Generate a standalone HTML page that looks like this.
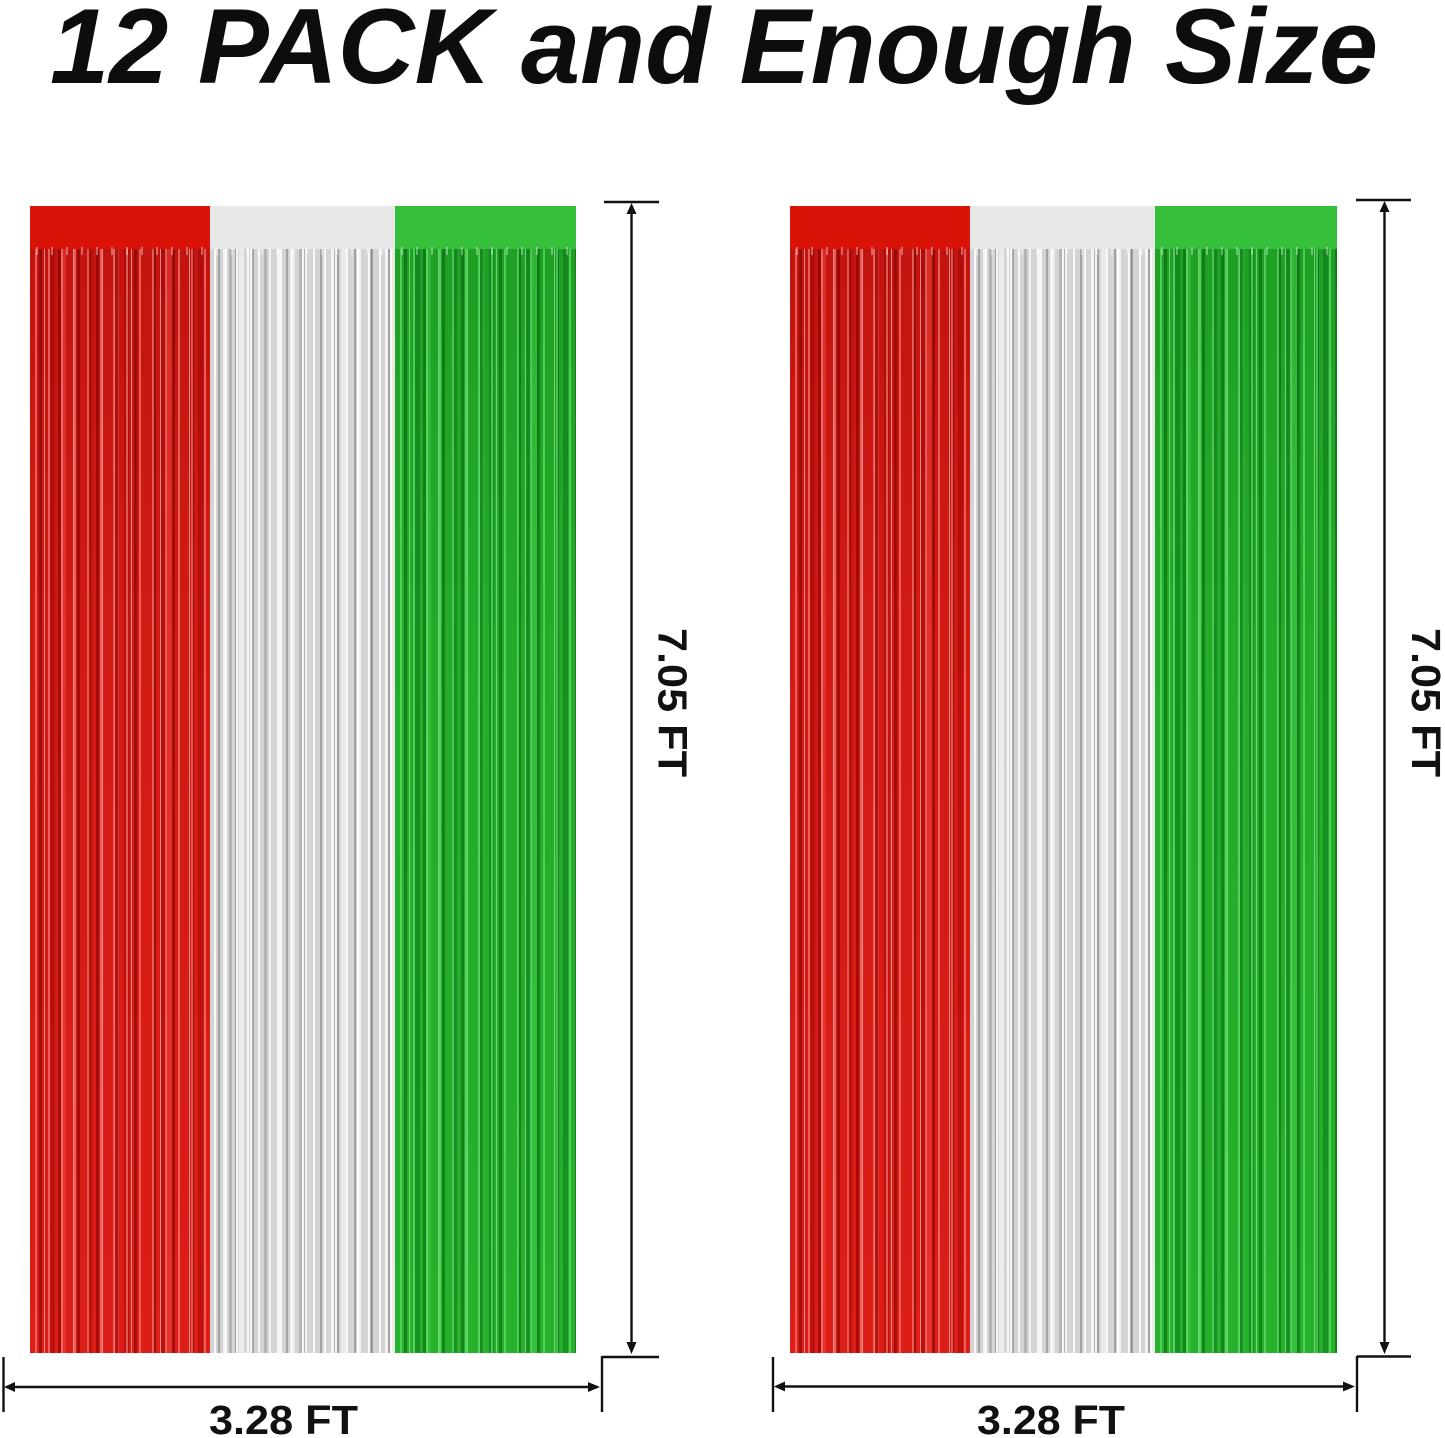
<!DOCTYPE html>
<html>
<head>
<meta charset="utf-8">
<style>
  html,body{margin:0;padding:0;background:#fff;}
  body{width:1445px;height:1438px;position:relative;overflow:hidden;}
  .p{position:absolute;top:206px;height:1147px;}
  .hd{position:absolute;left:0;right:0;top:0;height:43px;}
  .fr{position:absolute;left:0;right:0;top:43px;bottom:0;}
  .red .hd{background:#da1308;}
  .sil .hd{background:#e8e8e8;}
  .grn .hd{background:#35bf3a;}
  .red .fr{background:
    repeating-linear-gradient(90deg, transparent 0 5px, rgba(255,140,130,.6) 5px 7px, transparent 7px 13px),
    repeating-linear-gradient(90deg, transparent 0 9px, rgba(110,0,0,.5) 9px 12px, transparent 12px 19px),
    repeating-linear-gradient(90deg, transparent 0 14px, rgba(255,215,205,.6) 14px 15px, transparent 15px 29px),
    repeating-linear-gradient(90deg, transparent 0 20px, rgba(140,0,0,.4) 20px 25px, transparent 25px 37px),
    repeating-linear-gradient(90deg, transparent 0 31px, rgba(255,90,80,.35) 31px 36px, transparent 36px 53px),
    linear-gradient(180deg, #c21410 0%, #d21a15 35%, #dc1d18 100%);}
  .sil .fr{background:
    repeating-linear-gradient(90deg, transparent 0 4px, rgba(255,255,255,.85) 4px 6px, transparent 6px 11px),
    repeating-linear-gradient(90deg, transparent 0 8px, rgba(110,110,110,.5) 8px 10px, transparent 10px 17px),
    repeating-linear-gradient(90deg, transparent 0 13px, rgba(255,255,255,.75) 13px 16px, transparent 16px 27px),
    repeating-linear-gradient(90deg, transparent 0 19px, rgba(130,130,130,.4) 19px 22px, transparent 22px 35px),
    repeating-linear-gradient(90deg, transparent 0 29px, rgba(255,255,255,.5) 29px 34px, transparent 34px 51px),
    #d4d4d4;}
  .grn .fr{background:
    repeating-linear-gradient(90deg, transparent 0 5px, rgba(110,235,120,.6) 5px 7px, transparent 7px 13px),
    repeating-linear-gradient(90deg, transparent 0 9px, rgba(0,90,10,.5) 9px 12px, transparent 12px 19px),
    repeating-linear-gradient(90deg, transparent 0 14px, rgba(170,255,175,.55) 14px 15px, transparent 15px 29px),
    repeating-linear-gradient(90deg, transparent 0 20px, rgba(0,100,20,.4) 20px 25px, transparent 25px 37px),
    repeating-linear-gradient(90deg, transparent 0 31px, rgba(80,220,90,.35) 31px 36px, transparent 36px 53px),
    linear-gradient(180deg, #1f9f25 0%, #24ab2a 35%, #26b02c 100%);}
  .edge{position:absolute;left:0;right:0;top:41px;height:8px;
    background:repeating-linear-gradient(90deg, rgba(255,255,255,0) 0 6px, rgba(255,255,255,.35) 6px 8px, rgba(255,255,255,0) 8px 15px);}
  svg{position:absolute;left:0;top:0;}
</style>
</head>
<body>
  <!-- Left curtain -->
  <div class="p red" style="left:30px;width:180px;"><div class="hd"></div><div class="fr"></div><div class="edge"></div></div>
  <div class="p sil" style="left:210px;width:185px;"><div class="hd"></div><div class="fr"></div><div class="edge"></div></div>
  <div class="p grn" style="left:395px;width:181px;"><div class="hd"></div><div class="fr"></div><div class="edge"></div></div>
  <!-- Right curtain -->
  <div class="p red" style="left:790px;width:180px;"><div class="hd"></div><div class="fr"></div><div class="edge"></div></div>
  <div class="p sil" style="left:970px;width:185px;"><div class="hd"></div><div class="fr"></div><div class="edge"></div></div>
  <div class="p grn" style="left:1155px;width:182px;"><div class="hd"></div><div class="fr"></div><div class="edge"></div></div>

  <svg width="1445" height="1438" viewBox="0 0 1445 1438" xmlns="http://www.w3.org/2000/svg">
    <text x="50" y="83" font-family="Liberation Sans, sans-serif" font-weight="bold" font-style="italic" font-size="107" fill="#0d0d0d" textLength="1328" lengthAdjust="spacingAndGlyphs">12 PACK and Enough Size</text>

    <g stroke="#111" stroke-width="2.4" fill="none">
      <!-- left vertical dimension -->
      <line x1="631.5" y1="206" x2="631.5" y2="1350"/>
      <line x1="604" y1="202" x2="659" y2="202"/>
      <line x1="602" y1="1357" x2="659" y2="1357"/>
      <line x1="602" y1="1356" x2="602" y2="1412"/>
      <!-- left horizontal dimension -->
      <line x1="7" y1="1387" x2="597" y2="1387"/>
      <line x1="3.5" y1="1357" x2="3.5" y2="1412"/>
      <!-- right vertical dimension -->
      <line x1="1384.5" y1="204" x2="1384.5" y2="1350"/>
      <line x1="1356" y1="200" x2="1411" y2="200"/>
      <line x1="1357" y1="1356.5" x2="1411" y2="1356.5"/>
      <line x1="1357" y1="1356" x2="1357" y2="1412"/>
      <!-- right horizontal dimension -->
      <line x1="776" y1="1386.5" x2="1352" y2="1386.5"/>
      <line x1="773" y1="1357" x2="773" y2="1412"/>
    </g>
    <g fill="#111">
      <polygon points="631.5,203 626.5,214 636.5,214"/>
      <polygon points="631.5,1354 626.5,1342 636.5,1342"/>
      <polygon points="4,1387 15,1382 15,1392"/>
      <polygon points="600,1387 588,1382 588,1392"/>
      <polygon points="1384.5,201 1379.5,212 1389.5,212"/>
      <polygon points="1384.5,1354 1379.5,1342 1389.5,1342"/>
      <polygon points="774,1386.5 785,1381.5 785,1391.5"/>
      <polygon points="1355,1386.5 1343,1381.5 1343,1391.5"/>
    </g>

    <g font-family="Liberation Sans, sans-serif" font-weight="bold" font-size="41" fill="#111">
      <text x="283.5" y="1434" text-anchor="middle" textLength="149" lengthAdjust="spacingAndGlyphs">3.28 FT</text>
      <text x="1051" y="1434" text-anchor="middle" textLength="148" lengthAdjust="spacingAndGlyphs">3.28 FT</text>
      <text transform="translate(673.5,702.5) rotate(90)" x="0" y="15" text-anchor="middle" textLength="149" lengthAdjust="spacingAndGlyphs">7.05 FT</text>
      <text transform="translate(1427,702.5) rotate(90)" x="0" y="15" text-anchor="middle" textLength="149" lengthAdjust="spacingAndGlyphs">7.05 FT</text>
    </g>
  </svg>
</body>
</html>
